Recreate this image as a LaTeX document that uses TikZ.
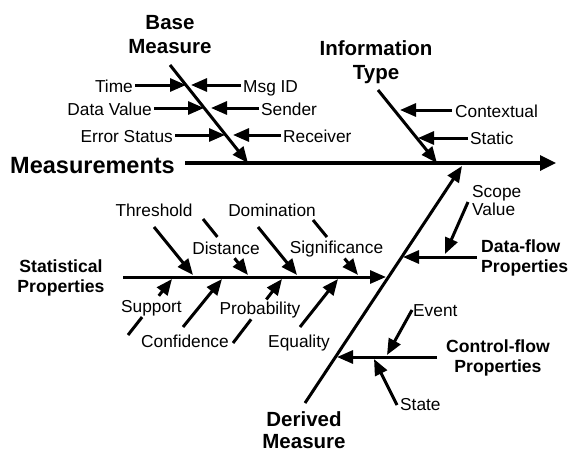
\documentclass[tikz,border=0pt]{standalone}
\usepackage{fontspec}
\setmainfont{Liberation Sans}
\usetikzlibrary{arrows.meta,calc}
\begin{document}
\begin{tikzpicture}[x=1pt,y=-1pt,
  lbl/.style={font=\fontsize{17.3pt}{18pt}\selectfont, inner sep=0pt},
  ttl/.style={font=\fontsize{20.5pt}{24pt}\selectfont\bfseries, align=center, inner sep=0pt},
  grp/.style={font=\fontsize{17.6pt}{20pt}\selectfont\bfseries, inner sep=0pt},
  head/.style={font=\fontsize{23.5pt}{26pt}\selectfont\bfseries, inner sep=0pt},
  bone/.style={line width=3pt},
  arr/.style={line width=3pt, -{Triangle[length=16pt,width=13pt]}},
  spinearr/.style={line width=3.3pt, -{Triangle[length=16pt,width=15pt]}},
]
\useasboundingbox (0,0) rectangle (569,453);

% ---- main spine ----
\node[head, anchor=base east] (meas) at (175,173) {Measurements};
\coordinate (sp0) at (185,163);
\coordinate (sp1) at (556,163);
\draw[spinearr] (sp0) -- (sp1);

% ---- Base Measure ----
\node[ttl, anchor=north] (bm) at (170,15) {Base\\Measure};
\coordinate (bm0) at (170,65);
\coordinate (bm1) at (248,163);
\draw[arr] (bm0) -- (bm1);

\node[lbl, anchor=base east] (time) at (133,92) {Time};
\node[lbl, anchor=base east] (dval) at (152,115) {Data Value};
\node[lbl, anchor=base east] (errs) at (173,142) {Error Status};
\node[lbl, anchor=base west] (msgid) at (243,92) {Msg ID};
\node[lbl, anchor=base west] (send) at (261,115) {Sender};
\node[lbl, anchor=base west] (recv) at (283,142) {Receiver};

\coordinate (time0) at (135,85);  \coordinate (time1) at (186,85);
\coordinate (dval0) at (154,108); \coordinate (dval1) at (204,108);
\coordinate (errs0) at (175,135); \coordinate (errs1) at (225,135);
\coordinate (msg0) at (241,85);   \coordinate (msg1) at (191,85);
\coordinate (send0) at (259,108); \coordinate (send1) at (211,108);
\coordinate (recv0) at (281,135); \coordinate (recv1) at (233,135);
\draw[arr] (time0) -- (time1);
\draw[arr] (dval0) -- (dval1);
\draw[arr] (errs0) -- (errs1);
\draw[arr] (msg0) -- (msg1);
\draw[arr] (send0) -- (send1);
\draw[arr] (recv0) -- (recv1);

% ---- Information Type ----
\node[ttl, anchor=north] (it) at (376,40) {Information\\Type};
\coordinate (it0) at (378,90);
\coordinate (it1) at (437,163);
\draw[arr] (it0) -- (it1);
\node[lbl, anchor=base west] (ctx) at (455,117) {Contextual};
\node[lbl, anchor=base west] (stat) at (470,144) {Static};
\coordinate (ctx0) at (452,110);  \coordinate (ctx1) at (400,110);
\coordinate (stat0) at (468,138); \coordinate (stat1) at (418,138);
\draw[arr] (ctx0) -- (ctx1);
\draw[arr] (stat0) -- (stat1);

% ---- Derived Measure ----
\node[ttl, font=\fontsize{20.5pt}{22.5pt}\selectfont\bfseries, anchor=north] (dm) at (304,411) {Derived\\Measure};
\coordinate (dm0) at (305,403);
\coordinate (dm1) at (462,166);
\draw[arr] (dm0) -- (dm1);

% ---- Statistical Properties ----
\node[grp, align=center, anchor=north] (sp) at (61,260) {Statistical\\Properties};
\coordinate (st0) at (123,277);
\coordinate (st1) at (386,277);
\draw[arr] (st0) -- (st1);

\node[lbl, anchor=base] (thr) at (154,216) {Threshold};
\node[lbl, anchor=base] (dom) at (272,216) {Domination};
\node[lbl, anchor=base] (dist) at (226,254) {Distance};
\node[lbl, anchor=base] (sig) at (336.5,253) {Significance};
\node[lbl, anchor=base] (supp) at (151.5,312) {Support};
\node[lbl, anchor=base] (conf) at (185,347) {Confidence};
\node[lbl, anchor=base] (prob) at (260,314) {Probability};
\node[lbl, anchor=base] (equ) at (299,347) {Equality};

\coordinate (thr0) at (154,227);  \coordinate (thr1) at (193,275);
\coordinate (dom0) at (258,227);  \coordinate (dom1) at (297,275);
\coordinate (dist0) at (203,219); \coordinate (dist1) at (248,275);
\coordinate (sig0) at (313,220);  \coordinate (sig1) at (358,275);
\coordinate (supp0) at (128,335); \coordinate (supp1) at (172,279);
\coordinate (conf0) at (183,327); \coordinate (conf1) at (222,279);
\coordinate (prob0) at (233,343); \coordinate (prob1) at (282,279);
\coordinate (equ0) at (300,327);  \coordinate (equ1) at (338,279);

\draw[arr] (thr0) -- (thr1);
\draw[arr] (dom0) -- (dom1);
\draw[arr] (conf0) -- (conf1);
\draw[arr] (equ0) -- (equ1);
% bones broken by their labels
\draw[bone] (dist0) -- ($(dist0)!0.32!(dist1)$);
\draw[arr] ($(dist0)!0.7!(dist1)$) -- (dist1);
\draw[bone] (sig0) -- ($(sig0)!0.31!(sig1)$);
\draw[arr] ($(sig0)!0.7!(sig1)$) -- (sig1);
\draw[bone] (supp0) -- ($(supp0)!0.32!(supp1)$);
\draw[arr] ($(supp0)!0.7!(supp1)$) -- (supp1);
\draw[bone] (prob0) -- ($(prob0)!0.37!(prob1)$);
\draw[arr] ($(prob0)!0.68!(prob1)$) -- (prob1);

% ---- Data-flow Properties ----
\node[grp, align=left, anchor=north west] (dfp) at (481,240) {Data-flow\\Properties};
\coordinate (df0) at (477,257);
\coordinate (df1) at (403,257);
\draw[arr] (df0) -- (df1);
\node[lbl, align=left, anchor=north west] (scope) at (472,185) {Scope\\Value};
\coordinate (sc0) at (468,202);
\coordinate (sc1) at (445,254);
\draw[arr] (sc0) -- (sc1);

% ---- Control-flow Properties ----
\node[grp, align=center, anchor=north] (cfp) at (498,340) {Control-flow\\Properties};
\coordinate (cf0) at (437,357);
\coordinate (cf1) at (337,357);
\draw[arr] (cf0) -- (cf1);
\node[lbl, anchor=base west] (event) at (413,316) {Event};
\node[lbl, anchor=base west] (state) at (400,410) {State};
\coordinate (ev0) at (412,310); \coordinate (ev1) at (387,355);
\coordinate (stt0) at (397,405); \coordinate (stt1) at (374,359);
\draw[arr] (ev0) -- (ev1);
\draw[arr] (stt0) -- (stt1);
\end{tikzpicture}
\end{document}
